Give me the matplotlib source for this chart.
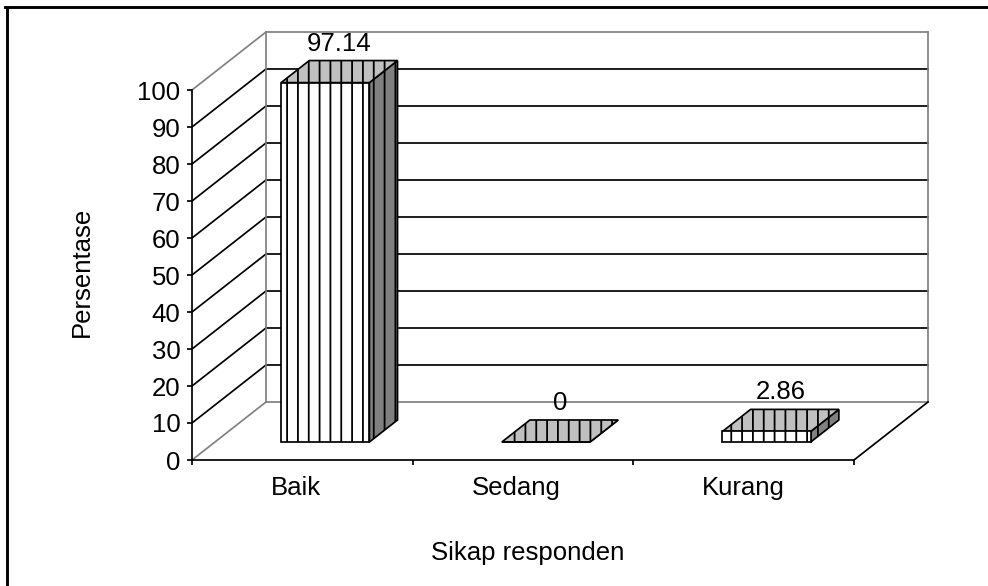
import matplotlib
matplotlib.use("Agg")
import matplotlib.pyplot as plt
from matplotlib.patches import Polygon
from matplotlib.lines import Line2D

plt.rcParams['font.family'] = ['Liberation Sans', 'DejaVu Sans']
plt.rcParams['hatch.linewidth'] = 2.0

categories = ["Baik", "Sedang", "Kurang"]
values = [97.14, 0, 2.86]
value_labels = ["97.14", "0", "2.86"]
y_ticks = list(range(0, 101, 10))
x_label = "Sikap responden"
y_label = "Persentase"

W, H, DPI = 988, 586, 65
FS = 28.5
fig = plt.figure(figsize=(W / DPI, H / DPI), dpi=DPI, facecolor="white")
# frame: only left and top edges fall inside the picture
fig.add_artist(Line2D([6.5 / W, 6.5 / W], [0, 1 - 7 / H], transform=fig.transFigure, color="black", lw=3.2))
fig.add_artist(Line2D([5 / W, 1], [1 - 7 / H, 1 - 7 / H], transform=fig.transFigure, color="black", lw=3.2))

L, R, T, B = 192, 854, 90, 460
ax = fig.add_axes([L / W, 1 - B / H, (R - L) / W, (B - T) / H])
ax.set_xlim(0, 3)
ax.set_ylim(0, 100)
ax.patch.set_visible(False)
for s in ("top", "right"):
    ax.spines[s].set_visible(False)
for s in ("left", "bottom"):
    ax.spines[s].set_linewidth(1.9)

dx = 74 / ((R - L) / 3)
dy = 58 / ((B - T) / 100)
GRAY = "#808080"
lw = 1.9

def line(xs, ys, c="black", z=1, w=lw):
    ax.plot(xs, ys, color=c, lw=w, zorder=z, clip_on=False, solid_capstyle="projecting")

# gridlines on the walls
for v in y_ticks[1:]:
    c = GRAY if v == 100 else "black"
    line([0, dx], [v, v + dy], c)
    line([dx, 3 + dx], [v + dy, v + dy], c)
line([0, dx], [0, dy], GRAY)
line([dx, 3 + dx], [dy, dy], GRAY)
line([dx, dx], [dy, 100 + dy], GRAY)
line([3 + dx, 3 + dx], [dy, 100 + dy], GRAY)
line([3, 3 + dx], [0, dy], "black")

# 3D bars
f0, f1 = 0.31, 0.69
bw = 0.4
FRONT, TOP, SIDE = "white", "#c0c0c0", "#808080"
for i, (cat, v, lab) in enumerate(zip(categories, values, value_labels)):
    x0 = i + 0.5 - bw / 2 + f0 * dx
    x1 = x0 + bw
    y0 = f0 * dy
    y1 = y0 + v
    ddx = (f1 - f0) * dx
    ddy = (f1 - f0) * dy
    top = [(x0, y1), (x1, y1), (x1 + ddx, y1 + ddy), (x0 + ddx, y1 + ddy)]
    side = [(x1, y0), (x1 + ddx, y0 + ddy), (x1 + ddx, y1 + ddy), (x1, y1)]
    front = [(x0, y0), (x1, y0), (x1, y1), (x0, y1)]
    for pts, fc in ((side, SIDE), (top, TOP), (front, FRONT)):
        ax.add_patch(Polygon(pts, closed=True, fc=fc, ec="black", lw=lw, hatch="|",
                             zorder=3, clip_on=False))
    ax.annotate(lab, (x0 + (bw + ddx) / 2, y1 + ddy / 2), xytext=(0, 28 * 72 / DPI),
                textcoords="offset points", ha="center", va="center",
                fontsize=FS, zorder=5, annotation_clip=False)

ax.set_yticks(y_ticks)
ax.set_xticks([0, 1, 2, 3])
ax.set_xticklabels([])
ax.tick_params(axis="both", which="major", length=5.5, width=1.9, labelsize=FS, pad=7.5)
ax.set_xticks([i + 0.5 + o for i, o in enumerate((-0.03, -0.03, 0.0))], minor=True)
ax.set_xticklabels(categories, minor=True, fontsize=FS)
ax.tick_params(axis="x", which="minor", length=0, pad=18)

fig.text(82 / W, 1 - 272 / H, y_label, rotation=90, ha="center", va="center", fontsize=FS)
fig.text(528 / W, 1 - 553 / H, x_label, ha="center", va="center", fontsize=FS)

fig.savefig("out.png", dpi=DPI, facecolor="white")
